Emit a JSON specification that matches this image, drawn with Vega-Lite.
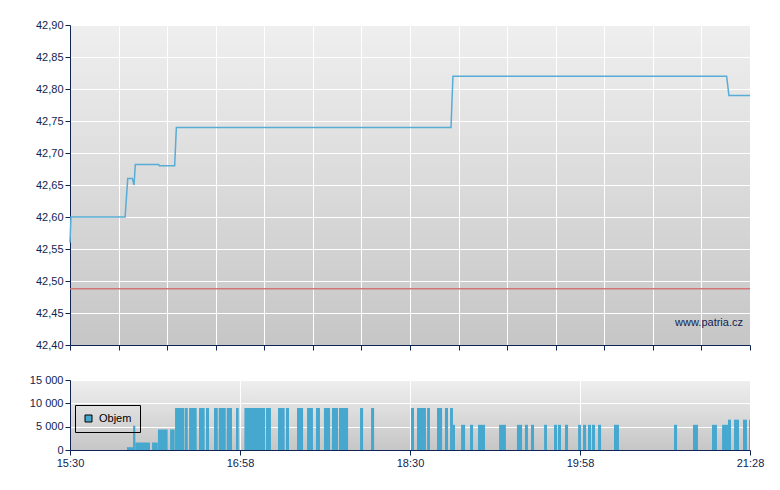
{
  "$schema": "https://vega.github.io/schema/vega-lite/v6.json",
  "background": "white",
  "padding": {"left": 29, "top": 19, "right": 10, "bottom": 5},
  "datasets": {
    "price": [
      {"t": 930.0, "price": 42.56},
      {"t": 930.5, "price": 42.60},
      {"t": 959.0, "price": 42.60},
      {"t": 960.4, "price": 42.66},
      {"t": 962.8, "price": 42.66},
      {"t": 963.7, "price": 42.65},
      {"t": 964.4, "price": 42.682},
      {"t": 976.7, "price": 42.682},
      {"t": 977.0, "price": 42.68},
      {"t": 985.1, "price": 42.68},
      {"t": 986.0, "price": 42.74},
      {"t": 1130.6, "price": 42.74},
      {"t": 1131.6, "price": 42.82},
      {"t": 1275.7, "price": 42.82},
      {"t": 1276.9, "price": 42.79},
      {"t": 1288.0, "price": 42.79}
    ],
    "volume": [
      {"start": 960.0, "end": 963.2, "volume": 600},
      {"start": 963.2, "end": 964.4, "volume": 5200},
      {"start": 964.4, "end": 972.1, "volume": 1600},
      {"start": 973.2, "end": 976.2, "volume": 1600},
      {"start": 976.3, "end": 981.4, "volume": 4400},
      {"start": 982.7, "end": 985.1, "volume": 4400},
      {"start": 985.3, "end": 990.2, "volume": 9000},
      {"start": 990.5, "end": 992.0, "volume": 9000},
      {"start": 992.7, "end": 996.7, "volume": 9000},
      {"start": 997.9, "end": 1000.9, "volume": 9000},
      {"start": 1001.6, "end": 1003.2, "volume": 9000},
      {"start": 1005.8, "end": 1007.8, "volume": 9000},
      {"start": 1008.3, "end": 1012.0, "volume": 9000},
      {"start": 1012.5, "end": 1015.3, "volume": 9000},
      {"start": 1017.4, "end": 1018.8, "volume": 9000},
      {"start": 1021.8, "end": 1032.7, "volume": 9000},
      {"start": 1033.2, "end": 1035.8, "volume": 9000},
      {"start": 1039.5, "end": 1043.0, "volume": 9000},
      {"start": 1043.7, "end": 1045.3, "volume": 9000},
      {"start": 1049.5, "end": 1052.7, "volume": 9000},
      {"start": 1054.8, "end": 1057.9, "volume": 9000},
      {"start": 1059.5, "end": 1061.6, "volume": 9000},
      {"start": 1063.7, "end": 1066.9, "volume": 9000},
      {"start": 1067.9, "end": 1071.1, "volume": 9000},
      {"start": 1071.6, "end": 1076.4, "volume": 9000},
      {"start": 1082.7, "end": 1084.3, "volume": 9000},
      {"start": 1088.5, "end": 1090.1, "volume": 9000},
      {"start": 1109.5, "end": 1111.1, "volume": 9000},
      {"start": 1112.7, "end": 1117.4, "volume": 9000},
      {"start": 1118.0, "end": 1119.5, "volume": 9000},
      {"start": 1123.2, "end": 1125.9, "volume": 9000},
      {"start": 1127.4, "end": 1129.0, "volume": 9000},
      {"start": 1130.1, "end": 1131.6, "volume": 9000},
      {"start": 1131.6, "end": 1132.7, "volume": 5400},
      {"start": 1135.9, "end": 1138.0, "volume": 5400},
      {"start": 1140.6, "end": 1142.2, "volume": 5400},
      {"start": 1144.8, "end": 1148.5, "volume": 5400},
      {"start": 1155.9, "end": 1159.5, "volume": 5400},
      {"start": 1165.3, "end": 1168.0, "volume": 5400},
      {"start": 1169.5, "end": 1171.1, "volume": 5400},
      {"start": 1172.7, "end": 1174.3, "volume": 5400},
      {"start": 1179.6, "end": 1181.1, "volume": 5400},
      {"start": 1184.8, "end": 1186.4, "volume": 5400},
      {"start": 1186.9, "end": 1188.5, "volume": 5400},
      {"start": 1190.6, "end": 1192.2, "volume": 5400},
      {"start": 1197.5, "end": 1199.0, "volume": 5400},
      {"start": 1200.1, "end": 1201.7, "volume": 5400},
      {"start": 1202.7, "end": 1204.3, "volume": 5400},
      {"start": 1204.8, "end": 1206.4, "volume": 5400},
      {"start": 1208.0, "end": 1209.6, "volume": 5400},
      {"start": 1216.4, "end": 1219.0, "volume": 5400},
      {"start": 1248.0, "end": 1249.6, "volume": 5400},
      {"start": 1258.0, "end": 1260.6, "volume": 5400},
      {"start": 1268.0, "end": 1270.6, "volume": 5400},
      {"start": 1273.3, "end": 1276.4, "volume": 5400},
      {"start": 1276.4, "end": 1278.0, "volume": 6500},
      {"start": 1279.6, "end": 1282.2, "volume": 6500},
      {"start": 1284.3, "end": 1286.4, "volume": 6500},
      {"start": 1287.5, "end": 1288.0, "volume": 6500}
    ]
  },
  "spacing": 35,
  "bounds": "flush",
  "resolve": {"scale": {"color": "independent"}, "legend": {"color": "independent"}},
  "vconcat": [
    {
      "width": 680,
      "height": 320,
      "layer": [
        {
          "data": {"name": "price"},
          "mark": {"type": "line", "color": "#57ADD6", "strokeWidth": 1.5},
          "encoding": {
            "x": {
              "field": "t", "type": "quantitative",
              "scale": {"domain": [930, 1288], "nice": false, "zero": false},
              "axis": {
                "title": null, "labels": false, "grid": true, "tickCount": 30,
                "values": [930, 955.571, 981.143, 1006.714, 1032.286, 1057.857, 1083.429, 1109, 1134.571, 1160.143, 1185.714, 1211.286, 1236.857, 1262.429, 1288]
              }
            },
            "y": {
              "field": "price", "type": "quantitative",
              "scale": {"domain": [42.4, 42.9], "nice": false, "zero": false},
              "axis": {
                "title": null, "grid": true, "labelOverlap": false, "tickCount": 30,
                "values": [42.4, 42.45, 42.5, 42.55, 42.6, 42.65, 42.7, 42.75, 42.8, 42.85, 42.9],
                "labelExpr": "replace(format(datum.value, '.2f'), '.', ',')"
              }
            }
          }
        },
        {
          "data": {"values": [{"prevClose": 42.488}]},
          "mark": {"type": "rule", "color": "#D07878", "strokeWidth": 1.5},
          "encoding": {"y": {"field": "prevClose", "type": "quantitative"}}
        },
        {
          "data": {"values": [{"label": "www.patria.cz"}]},
          "mark": {"type": "text", "align": "right", "baseline": "middle", "font": "Liberation Sans", "fontSize": 11, "color": "#0f2452"},
          "encoding": {
            "x": {"datum": 1284.3, "type": "quantitative"},
            "y": {"datum": 42.434, "type": "quantitative"},
            "text": {"field": "label"}
          }
        }
      ]
    },
    {
      "width": 680,
      "height": 70,
      "data": {"name": "volume"},
      "mark": {"type": "rect"},
      "encoding": {
        "x": {
          "field": "start", "type": "quantitative",
          "scale": {"domain": [930, 1288], "nice": false, "zero": false},
          "axis": {
            "title": null, "grid": true, "labelFlush": false, "tickCount": 30,
            "values": [930, 1019.5, 1109, 1198.5, 1288],
            "labelExpr": "['15:30','16:58','18:30','19:58','21:28'][round((datum.value-930)/89.5)]"
          }
        },
        "x2": {"field": "end"},
        "y": {
          "field": "volume", "type": "quantitative",
          "scale": {"domain": [0, 15000], "nice": false},
          "axis": {
            "title": null, "grid": true, "labelOverlap": false, "tickCount": 30,
            "values": [0, 5000, 10000, 15000],
            "labelExpr": "replace(format(datum.value, ','), ',', ' ')"
          }
        },
        "y2": {"datum": 0},
        "color": {
          "datum": "Objem", "type": "nominal",
          "scale": {"range": ["#46A7CF"]},
          "legend": {
            "title": null, "orient": "none", "legendX": 5, "legendY": 25,
            "strokeColor": "#000000", "padding": 8,
            "symbolType": "square", "symbolSize": 49,
            "symbolStrokeColor": "#000000", "symbolStrokeWidth": 1,
            "labelFont": "Liberation Sans", "labelFontSize": 11, "labelColor": "#000000",
            "labelOffset": 5
          }
        }
      }
    }
  ],
  "config": {
    "view": {
      "stroke": null,
      "fill": {"gradient": "linear", "x1": 0, "y1": 0, "x2": 0, "y2": 1,
        "stops": [{"offset": 0, "color": "#EFEFEF"}, {"offset": 1, "color": "#C6C6C6"}]}
    },
    "axis": {
      "labelFont": "Liberation Sans", "labelFontSize": 11, "labelColor": "#0f2452",
      "domainColor": "#0f2452", "tickColor": "#0f2452", "domainWidth": 1, "tickWidth": 1,
      "gridColor": "#ffffff", "gridOpacity": 1, "gridWidth": 1,
      "tickSize": 5, "labelPadding": 2
    },
    "axisY": {"minExtent": 41, "maxExtent": 41}
  }
}
